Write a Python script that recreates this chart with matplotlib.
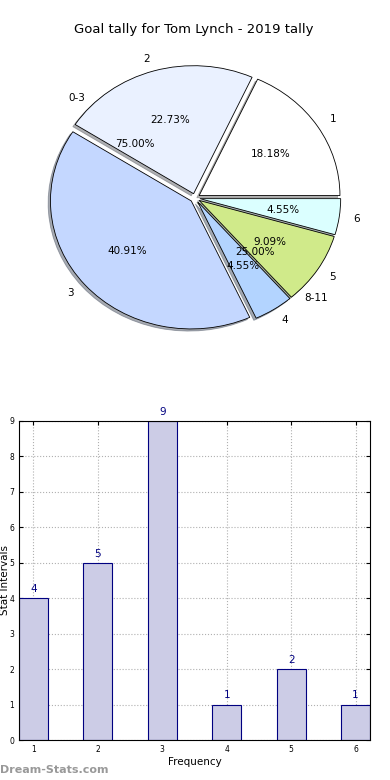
import matplotlib.pyplot as plt

# pie data
freq_labels = ['1', '2', '3', '4', '5', '6']
freq_counts = [4, 5, 9, 1, 2, 1]
pie_colors = ['#ffffff', '#eaf1ff', '#c4d7ff', '#b3d4ff', '#d0ea8a', '#dbffff']

range_labels = ['0-3', '8-11']
range_share = [75, 25]

# bar data
bar_x = [1, 2, 3, 4, 5, 6]
bar_vals = [4, 5, 9, 1, 2, 1]

fig = plt.figure(figsize=(3.9, 7.8), dpi=100)

ax1 = fig.add_axes([19 / 390, 1 - 358 / 780, 352 / 390, 320 / 780])
ax1.pie(freq_counts, labels=freq_labels, colors=pie_colors, autopct='%.2f%%',
        explode=[0.035] * 6, shadow={'ox': -0.012, 'oy': -0.012, 'shade': 0.6},
        startangle=0, counterclock=True,
        labeldistance=1.1, pctdistance=0.6,
        wedgeprops={'edgecolor': 'black', 'linewidth': 0.6},
        textprops={'fontsize': 7.5})
ax1.pie(range_share, labels=range_labels, autopct='%.2f%%', startangle=0,
        labeldistance=1.1, pctdistance=0.6,
        wedgeprops={'facecolor': 'none', 'linewidth': 0},
        textprops={'fontsize': 7.5})
ax1.set_aspect('auto')
ax1.set_xlim(-1.25, 1.25)
ax1.set_ylim(-1.25, 1.25)

fig.text(194 / 390, 1 - 30 / 780, 'Goal tally for Tom Lynch - 2019 tally',
         ha='center', va='center', fontsize=9.5)

ax2 = fig.add_axes([19 / 390, 40 / 780, 351 / 390, 319 / 780])
ax2.bar(bar_x, bar_vals, width=0.45, color='#ccccE6', edgecolor='#000080',
        linewidth=0.8, zorder=2)
for x, v in zip(bar_x, bar_vals):
    ax2.text(x, v + 0.12, str(v), ha='center', va='bottom', color='#000080',
             fontsize=7.5)
ax2.set_xlim(0.775, 6.225)
ax2.set_ylim(0, 9)
ax2.set_xticks(bar_x)
ax2.set_yticks(range(10))
ax2.tick_params(direction='in', top=True, right=True, labelsize=5.5, length=3)
ax2.grid(True, linestyle=':', color='#b0b0b0', linewidth=0.8, zorder=0)
ax2.set_axisbelow(True)
ax2.set_xlabel('Frequency', fontsize=7.5, labelpad=2)
fig.text(5 / 390, 1 - 580 / 780, 'Stat Intervals', rotation=90, ha='center',
         va='center', fontsize=7.5)

fig.text(0, 1 - 770 / 780, 'Dream-Stats.com', ha='left', va='center',
         fontsize=8, color='#999999', fontweight='bold')

fig.savefig('out.png', dpi=100)
